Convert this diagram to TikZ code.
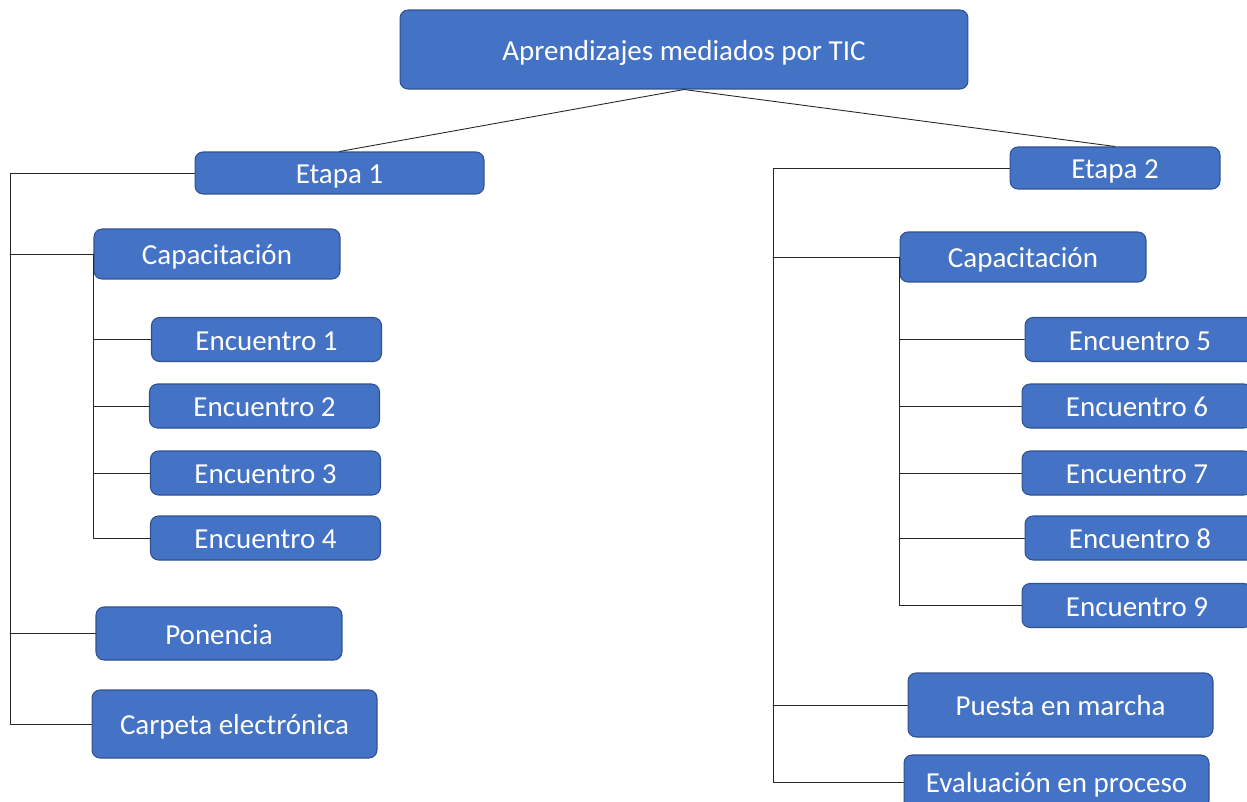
\documentclass[tikz,border=0pt]{standalone}
\usepackage{fontspec}
\setmainfont{Carlito}
\definecolor{azul}{HTML}{4472C4}
\definecolor{borde}{HTML}{2F528F}
\tikzset{
	cuadro/.style = {draw=borde, fill=azul, text=white, rounded corners=0.16cm,
		line width=0.6pt, inner sep=0pt, align=center,
		text height=14pt, text depth=2pt,
		font=\fontsize{16.5}{19.8}\selectfont},
	encuentro/.style = {cuadro, minimum width=4.6cm, minimum height=0.88cm},
	rama/.style = {line width=0.5pt, black!85},
}
\begin{document}
\begin{tikzpicture}[
		x = 0.02cm,
		y = -0.02cm,
		line join = round,
		line cap = round,
		]
\useasboundingbox	(0,0) rectangle (1247,801);
\clip			(0,0) rectangle (1247,801);
\node[cuadro, minimum width=11.36cm, minimum height=1.58cm] (titulo) at (684,49.5) {Aprendizajes mediados por TIC};
\node[cuadro, minimum width=5.78cm, minimum height=0.84cm] (etapaA) at (339.5,173) {Etapa 1};
\node[cuadro, minimum width=4.2cm, minimum height=0.84cm] (etapaB) at (1115,168) {Etapa 2};
\node[cuadro, minimum width=4.92cm, minimum height=1cm] (capA) at (217,254) {Capacitación};
\node[encuentro] (encA1) at (266.5,339.5) {Encuentro 1};
\node[encuentro] (encA2) at (264.5,406) {Encuentro 2};
\node[encuentro] (encA3) at (265.5,473) {Encuentro 3};
\node[encuentro] (encA4) at (265.5,538) {Encuentro 4};
\node[cuadro, minimum width=4.92cm, minimum height=1.06cm] (ponencia) at (219,633.5) {Ponencia};
\node[cuadro, minimum width=5.7cm, minimum height=1.36cm] (carpeta) at (234.5,724) {Carpeta electrónica};
\node[cuadro, minimum width=4.92cm, minimum height=1cm] (capB) at (1023,257) {Capacitación};
\node[encuentro] (encB5) at (1140,339.5) {Encuentro 5};
\node[encuentro] (encB6) at (1137,406) {Encuentro 6};
\node[encuentro] (encB7) at (1137,473) {Encuentro 7};
\node[encuentro] (encB8) at (1140,538) {Encuentro 8};
\node[encuentro] (encB9) at (1137,605.5) {Encuentro 9};
\node[cuadro, minimum width=6.1cm, minimum height=1.28cm] (puesta) at (1060.5,705) {Puesta en marcha};
\node[cuadro, minimum width=6.1cm, minimum height=1.08cm] (evaluacion) at (1056.5,782) {Evaluación en proceso};
\coordinate (troncoA) at (10,173);
\coordinate (troncoB) at (773,168);
\draw[rama]	(titulo.south) -- (etapaA.north)
		(titulo.south) -- (etapaB.north);
\draw[rama]	(etapaA.west) -- (troncoA) |- (carpeta.west);
\draw[rama]	(troncoA |- capA.west) -- (capA.west)
		(troncoA |- ponencia.west) -- (ponencia.west);
\draw[rama]	(capA.west) |- (encA4.west);
\foreach \n in {1,2,3}
	\draw[rama]	(capA.west |- encA\n.west) -- (encA\n.west);
\draw[rama]	(etapaB.west) -- (troncoB) |- (evaluacion.west);
\draw[rama]	(troncoB |- capB.west) -- (capB.west)
		(troncoB |- puesta.west) -- (puesta.west);
\draw[rama]	(capB.west) |- (encB9.west);
\foreach \n in {5,6,7,8}
	\draw[rama]	(capB.west |- encB\n.west) -- (encB\n.west);
\end{tikzpicture}
\end{document}
